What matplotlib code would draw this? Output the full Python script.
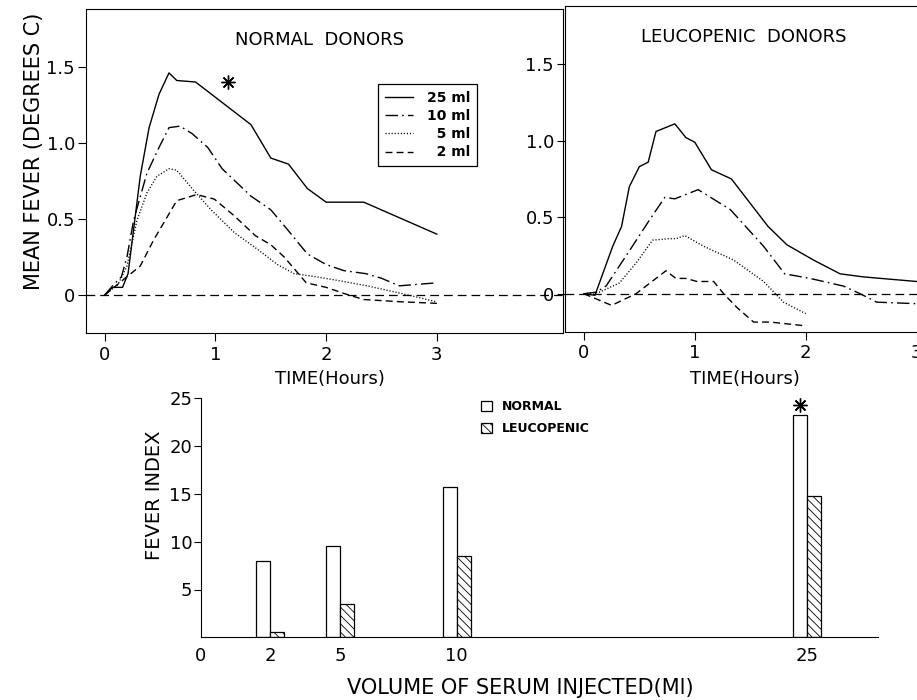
import matplotlib.pyplot as plt
import numpy as np

# ── data ─────────────────────────────────────────────────────────────────────

doses = [25, 10, 5, 2]  # ml of serum injected

# normal donors, mean fever (deg C) vs time (h)
norm_t_25 = [0, 0.07, 0.16, 0.21, 0.26, 0.32, 0.40, 0.49, 0.58, 0.65, 0.82, 1.32, 1.50, 1.66, 1.83, 2.00, 2.34, 3.00]
norm_f_25 = [0, 0.05, 0.05, 0.14, 0.43, 0.78, 1.10, 1.32, 1.46, 1.41, 1.40, 1.12, 0.90, 0.86, 0.70, 0.61, 0.61, 0.40]
norm_t_10 = [0, 0.07, 0.15, 0.20, 0.26, 0.38, 0.49, 0.58, 0.68, 0.79, 0.93, 1.06, 1.32, 1.50, 1.65, 1.83, 2.00, 2.16, 2.36, 2.50, 2.66, 3.00]
norm_f_10 = [0, 0.06, 0.12, 0.25, 0.49, 0.80, 0.97, 1.10, 1.11, 1.06, 0.97, 0.83, 0.65, 0.56, 0.43, 0.27, 0.20, 0.16, 0.14, 0.11, 0.06, 0.08]
norm_t_5 = [0, 0.05, 0.12, 0.20, 0.29, 0.38, 0.47, 0.58, 0.65, 0.80, 0.96, 1.17, 1.38, 1.56, 1.71, 1.86, 2.07, 2.37, 2.68, 3.00]
norm_f_5 = [0, 0.03, 0.07, 0.19, 0.49, 0.67, 0.78, 0.83, 0.82, 0.69, 0.56, 0.41, 0.30, 0.20, 0.14, 0.125, 0.10, 0.06, 0.01, -0.045]
norm_t_2 = [0, 0.10, 0.20, 0.32, 0.44, 0.65, 0.83, 0.99, 1.17, 1.36, 1.50, 1.62, 1.82, 2.00, 2.16, 2.34, 2.68, 3.00]
norm_f_2 = [0, 0.06, 0.12, 0.19, 0.36, 0.62, 0.66, 0.63, 0.52, 0.39, 0.33, 0.25, 0.08, 0.05, 0.01, -0.03, -0.045, -0.055]

# leucopenic donors
leuc_t_25 = [0, 0.10, 0.17, 0.26, 0.34, 0.41, 0.50, 0.58, 0.65, 0.82, 0.92, 1.00, 1.15, 1.33, 1.66, 1.83, 2.07, 2.31, 2.52, 3.00]
leuc_f_25 = [0, -0.01, 0.13, 0.31, 0.44, 0.70, 0.83, 0.86, 1.06, 1.11, 1.02, 0.99, 0.81, 0.75, 0.44, 0.32, 0.22, 0.13, 0.11, 0.08]
leuc_t_10 = [0, 0.11, 0.20, 0.41, 0.59, 0.73, 0.82, 1.03, 1.32, 1.62, 1.81, 2.04, 2.34, 2.49, 2.64, 3.00]
leuc_f_10 = [0, 0.01, 0.05, 0.28, 0.48, 0.63, 0.62, 0.68, 0.55, 0.31, 0.13, 0.10, 0.05, 0.0, -0.055, -0.065]
leuc_t_5 = [0, 0.14, 0.32, 0.47, 0.62, 0.77, 0.83, 0.91, 1.08, 1.35, 1.62, 1.80, 2.00]
leuc_f_5 = [0, 0.01, 0.07, 0.20, 0.35, 0.36, 0.36, 0.38, 0.31, 0.22, 0.08, -0.055, -0.13]
leuc_t_2 = [0, 0.25, 0.47, 0.74, 0.83, 0.92, 1.02, 1.17, 1.26, 1.38, 1.53, 1.68, 2.00]
leuc_f_2 = [0, -0.076, 0, 0.15, 0.10, 0.10, 0.08, 0.08, 0, -0.09, -0.185, -0.185, -0.21]

# fever index bars
volumes = [2, 5, 10, 25]
index_normal = [8.0, 9.6, 15.7, 23.3]
index_leuco = [0.6, 3.5, 8.5, 14.8]

# ── figure helpers ────────────────────────────────────────────────────────────

W, H = 917, 700
plt.rcParams["font.family"] = ["DejaVu Sans"]
fig = plt.figure(figsize=(W / 100, H / 100), dpi=100)


def px_axes(x0, y0, x1, y1):
    """axes from pixel box (top-left origin)"""
    return fig.add_axes([x0 / W, 1 - y1 / H, (x1 - x0) / W, (y1 - y0) / H])


def fig_text(x, y, s, **kw):
    kw.setdefault("ha", "center")
    kw.setdefault("va", "center")
    return fig.text(x / W, 1 - y / H, s, **kw)


styles = {
    25: dict(ls="-"),
    10: dict(ls=(0, (9, 3, 1.2, 3))),
    5: dict(ls=(0, (0.8, 1.4))),
    2: dict(ls=(0, (5, 3))),
}


def style_time_axes(ax, xmax):
    ax.set_xlim(-0.17, xmax)
    ax.set_ylim(-0.25, 1.88)
    ax.set_xticks([0, 1, 2, 3], ["0", "1", "2", "3"])
    ax.set_yticks([0, 0.5, 1.0, 1.5], ["0", "0.5", "1.0", "1.5"])
    ax.tick_params(direction="out", length=6, width=0.8, labelsize=13, pad=2)
    ax.tick_params(axis="x", pad=3)
    for sp in ax.spines.values():
        sp.set_linewidth(0.8)
    ax.axhline(0, color="k", lw=0.9, ls=(0, (7, 4)))


# ── line panels ──────────────────────────────────────────────────────────────

ax1 = px_axes(86, 9, 563, 333)
style_time_axes(ax1, 4.14)
normal_series = {25: (norm_t_25, norm_f_25), 10: (norm_t_10, norm_f_10),
                 5: (norm_t_5, norm_f_5), 2: (norm_t_2, norm_f_2)}
handles = []
for d in doses:
    t, f = normal_series[d]
    (ln,) = ax1.plot(t, f, color="k", lw=1.0, **styles[d])
    handles.append(ln)
ax1.plot(1.11, 1.40, marker=(8, 2, 0), ms=10, mew=1.0, color="k")
ax1.text(0.49, 0.904, "NORMAL  DONORS", transform=ax1.transAxes,
         ha="center", va="center", fontsize=13)

labels = [f"{d} ml".rjust(5, "\u2007") for d in doses]
leg = ax1.legend(handles, labels, loc="upper left",
                 bbox_to_anchor=(378 / W, 1 - 84 / H), bbox_transform=fig.transFigure,
                 borderaxespad=0, fancybox=False, framealpha=1, edgecolor="k",
                 handlelength=2.0, handletextpad=1.0, labelspacing=0.3,
                 borderpad=0.5, prop=dict(size=10, weight="bold"))
leg.get_frame().set_linewidth(0.9)

ax2 = px_axes(565, 6, 930, 332)
style_time_axes(ax2, 3.12)
leuco_series = {25: (leuc_t_25, leuc_f_25), 10: (leuc_t_10, leuc_f_10),
                5: (leuc_t_5, leuc_f_5), 2: (leuc_t_2, leuc_f_2)}
for d in doses:
    t, f = leuco_series[d]
    ax2.plot(t, f, color="k", lw=1.0, **styles[d])
ax2.text(0.49, 0.905, "LEUCOPENIC  DONORS", transform=ax2.transAxes,
         ha="center", va="center", fontsize=13)

fig_text(34, 151, "MEAN FEVER (DEGREES C)", rotation=90, fontsize=15)
fig_text(330, 379, "TIME(Hours)", fontsize=13)
fig_text(745, 379, "TIME(Hours)", fontsize=13)

# ── fever index bars ─────────────────────────────────────────────────────────

ax3 = px_axes(200.7, 398.3, 878.3, 637.3)
x_left = -0.97
ax3.set_xlim(x_left, 28.07)
ax3.set_ylim(0, 25)
w = 0.6
vol = np.array(volumes)
b1 = ax3.bar(vol - w / 2, index_normal, width=w, color="white",
             edgecolor="k", lw=0.9, label="NORMAL")
plt.rcParams["hatch.linewidth"] = 0.6
b2 = ax3.bar(vol + w / 2, index_leuco, width=w, color="white",
             edgecolor="k", lw=0.9, hatch="\\\\\\\\", label="LEUCOPENIC")
ax3.plot(24.7, 24.35, marker=(8, 2, 0), ms=10, mew=1.0, color="k", clip_on=False)

ax3.spines["top"].set_visible(False)
ax3.spines["right"].set_visible(False)
ax3.spines["left"].set_linewidth(0.8)
ax3.spines["bottom"].set_linewidth(0.8)
ax3.set_yticks([5, 10, 15, 20, 25], ["5", "10", "15", "20", "25"])
ax3.set_xticks([x_left] + volumes, ["0"] + [str(v) for v in volumes])
ax3.tick_params(axis="y", direction="out", length=5, width=0.8, labelsize=13, pad=1)
ax3.tick_params(axis="x", length=0, labelsize=13, pad=7)

ax3.legend([b1, b2], ["NORMAL", "LEUCOPENIC"], loc="upper left",
           bbox_to_anchor=(476 / W, 1 - 395 / H), bbox_transform=fig.transFigure,
           borderaxespad=0, frameon=False, handlelength=0.9, handleheight=0.9,
           handletextpad=0.8, labelspacing=0.75, prop=dict(size=9, weight="bold"))

fig_text(155, 495, "FEVER INDEX", rotation=90, fontsize=14)
fig_text(520, 688, "VOLUME OF SERUM INJECTED(Ml)", fontsize=15)

fig.savefig("out.png", dpi=100)
